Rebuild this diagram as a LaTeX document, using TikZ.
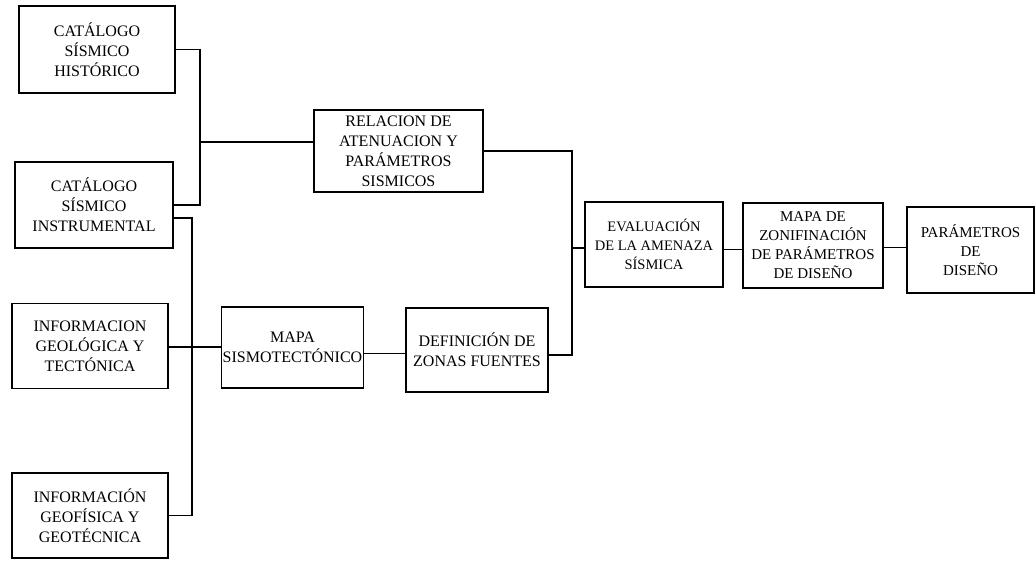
\documentclass[tikz,border=0pt]{standalone}
\usepackage{fontspec}
\setmainfont{Liberation Serif}
\usepackage{tikz}
\usetikzlibrary{positioning}

\begin{document}
\begin{tikzpicture}[x=1pt, y=-1pt, line width=1.4pt,
        caja/.style={draw, line width=1.4pt, align=center, inner sep=1pt,
            font=\fontsize{16}{20}\selectfont}]
        \useasboundingbox (0,0) rectangle (1036,560);
        % Nodes
        \node[caja, minimum width=156, minimum height=87] (hist) at (97, 49.5) {CATÁLOGO\\SÍSMICO\\HISTÓRICO};
        \node[caja, minimum width=158, minimum height=86] (instr) at (94, 205) {CATÁLOGO\\SÍSMICO\\INSTRUMENTAL};
        \node[caja, minimum width=156, minimum height=85] (geol) at (90, 346) {INFORMACION\\GEOLÓGICA Y\\TECTÓNICA};
        \node[caja, minimum width=156, minimum height=85] (geof) at (90, 515.5) {INFORMACIÓN\\GEOFÍSICA Y\\GEOTÉCNICA};
        \node[caja, minimum width=169, minimum height=82] (relac) at (398.5, 151) {RELACION DE\\ATENUACION Y\\PARÁMETROS\\SISMICOS};
        \node[caja, minimum width=141, minimum height=81] (mapasis) at (292.5, 347.5) {MAPA\\SISMOTECTÓNICO};
        \node[caja, minimum width=142, minimum height=84] (defzon) at (477, 350) {DEFINICIÓN DE\\ZONAS FUENTES};
        \node[caja, minimum width=138, minimum height=85, font=\fontsize{14.5}{19}\selectfont] (eval) at (654, 244.5) {EVALUACIÓN\\DE LA AMENAZA\\SÍSMICA};
        \node[caja, minimum width=140, minimum height=85, font=\fontsize{15}{19}\selectfont] (mapzon) at (813, 245.5) {MAPA DE\\ZONIFINACIÓN\\DE PARÁMETROS\\DE DISEÑO};
        \node[caja, minimum width=127, minimum height=86, font=\fontsize{15}{19}\selectfont] (param) at (970.5, 250) {PARÁMETROS\\DE\\DISEÑO};

        % Junctions
        \coordinate (j1) at (200, 142);
        \coordinate (j2) at (192, 347);
        \coordinate (j3) at (572, 248);

        % Connectors
        \draw (hist.east) -| (j1);
        \draw (instr.east) -| (j1);
        \draw (j1) -- (j1 -| relac.west);
        \draw ([yshift=-13pt]instr.east) -| (j2);
        \draw (geof.east) -| (j2);
        \draw (j2 -| geol.east) -- (j2 -| mapasis.west);
        \draw ([yshift=-6pt]mapasis.east) -- ([yshift=-6pt]mapasis.east -| defzon.west);
        \draw (relac.east) -| (j3);
        \draw ([yshift=-5pt]defzon.east) -| (j3);
        \draw (j3) -- (j3 -| eval.west);
        \draw ([yshift=-5pt]eval.east) -- ([yshift=-5pt]eval.east -| mapzon.west);
        \draw ([yshift=-2pt]mapzon.east) -- ([yshift=-2pt]mapzon.east -| param.west);
\end{tikzpicture}
\end{document}
